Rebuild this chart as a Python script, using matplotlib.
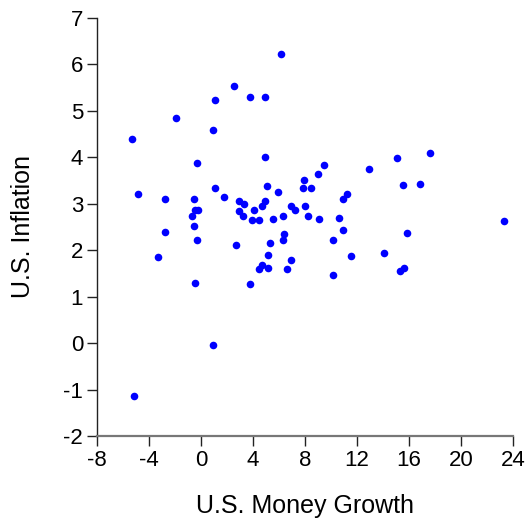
import numpy as np
import matplotlib
matplotlib.use("Agg")
import matplotlib.pyplot as plt

# scatter of money growth vs inflation
money_growth = [
    6.13, 2.54, 1.05, 3.77, 4.95, -1.95, -5.31, 0.95, 4.90, -0.31,
    -4.85, 1.05, 1.77, -2.74, -0.54, 5.05, 5.90, 7.95, 7.82, 8.44,
    2.95, 3.33, 2.95, 3.20, 4.08, 3.95, 4.46, 4.90, 4.69, 5.51,
    6.31, 6.90, 7.21, 8.00, 8.23, -0.72, -0.44, -0.21, -0.54, -2.80,
    6.41, -0.31, 6.33, 9.46, 9.03, 12.95, 15.10, 17.60, 15.54, 16.85,
    11.20, 10.95, 9.05, 10.64, 10.95, 23.30, 15.82, 10.15, 11.54, 14.05,
    15.28, 15.64, 10.18, 2.72, 5.33, -3.28, 5.15, 4.67, 4.46, 5.15,
    6.90, 6.62, -0.44, 3.79, 0.95, -5.13,
]
inflation = [
    6.22, 5.54, 5.24, 5.30, 5.29, 4.84, 4.39, 4.58, 4.01, 3.88,
    3.20, 3.33, 3.15, 3.10, 3.10, 3.38, 3.25, 3.51, 3.33, 3.33,
    3.06, 3.00, 2.85, 2.74, 2.87, 2.65, 2.65, 3.05, 2.95, 2.67,
    2.74, 2.95, 2.87, 2.95, 2.74, 2.74, 2.87, 2.87, 2.53, 2.40,
    2.35, 2.21, 2.21, 3.84, 3.65, 3.74, 3.98, 4.09, 3.41, 3.43,
    3.20, 3.10, 2.67, 2.70, 2.44, 2.63, 2.38, 2.22, 1.88, 1.95,
    1.56, 1.61, 1.47, 2.11, 2.15, 1.86, 1.90, 1.69, 1.60, 1.61,
    1.79, 1.60, 1.30, 1.27, -0.03, -1.13,
]
x_ticks = [-8, -4, 0, 4, 8, 12, 16, 20, 24]
y_ticks = [-2, -1, 0, 1, 2, 3, 4, 5, 6, 7]

plt.rcParams['font.family'] = ['Liberation Sans', 'DejaVu Sans']
plt.rcParams['axes.unicode_minus'] = False

fig = plt.figure(figsize=(5.30, 5.19), dpi=100)
ax = fig.add_axes([97 / 530, 1 - 436 / 519, (513 - 97) / 530, (436 - 18) / 519])

ax.scatter(money_growth, inflation, s=30, color='#0000ff', linewidths=0, zorder=3)

ax.set_xlim(-8, 24)
ax.set_ylim(-2, 7)
ax.set_xticks(x_ticks)
ax.set_yticks(y_ticks)

for side in ['top', 'right']:
    ax.spines[side].set_visible(False)
ax.spines['left'].set_color('#222222')
ax.spines['left'].set_linewidth(1.0)
ax.spines['bottom'].set_color('#777777')
ax.spines['bottom'].set_linewidth(1.6)

ax.tick_params(axis='both', direction='out', length=7, width=1.0, color='#222222',
               labelsize=16, pad=3)

ax.set_xlabel('U.S. Money Growth', fontsize=18, labelpad=17)
ax.set_ylabel('U.S. Inflation', fontsize=18, labelpad=20)

fig.savefig('out.png', dpi=100)
